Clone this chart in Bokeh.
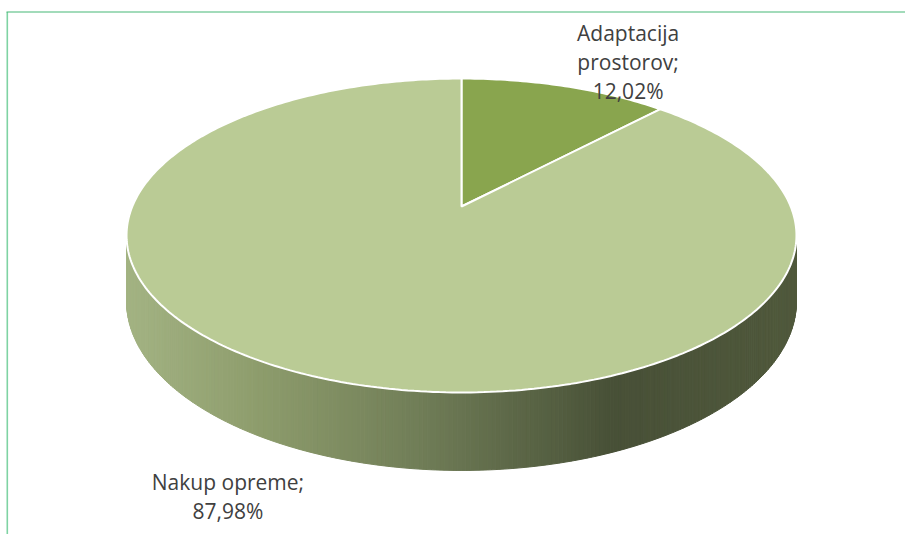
import math
from bokeh.plotting import figure
from bokeh.models import Range1d
from bokeh.core.properties import value
from bokeh.embed import file_html
from bokeh.resources import INLINE

# ---- data ----
categories = ["Adaptacija prostorov", "Nakup opreme"]
label_heads = ["Adaptacija\nprostorov;", "Nakup opreme;"]
shares = [12.02, 87.98]
slice_colors = ["#89A54E", "#BACB95"]

# ---- geometry (pixel space, perspective ellipse) ----
CX, CY = 461.0, 206.0
A, B, K, H = 329.2, 151.6, 0.1847, 63.6


def proj(theta, w=0.0):
    u, v = math.sin(theta), math.cos(theta)
    d = 1 + K * v
    return CX + A * u / d, CY - (B * v - H * w) / d


def hex2rgb(h):
    h = h.lstrip("#")
    return tuple(int(h[i:i + 2], 16) for i in (0, 2, 4))


stops = [(120, "#a4b484"), (260, "#8d9c6c"), (420, "#707d57"),
         (560, "#535d40"), (610, "#485037"), (800, "#50593c")]


def grad(x):
    for (x0, c0), (x1, c1) in zip(stops, stops[1:]):
        if x <= x1 or (x1, c1) == stops[-1]:
            t = min(max((x - x0) / (x1 - x0), 0), 1)
            r0, r1 = hex2rgb(c0), hex2rgb(c1)
            return "#%02x%02x%02x" % tuple(int(round(a + (b - a) * t)) for a, b in zip(r0, r1))


p = figure(width=905, height=534, output_backend="svg", toolbar_location=None,
           x_range=Range1d(0, 905), y_range=Range1d(534, 0),
           min_border=0, outline_line_color=None)
p.axis.visible = False
p.grid.visible = False
p.background_fill_color = "white"

# border lines (chart area frame, only top and left visible)
p.line([6.8, 6.8], [11.5, 534], line_color="#7fd3a3", line_width=1.6)
p.line([6, 905], [11.5, 11.5], line_color="#46b876", line_width=1.2)

# side wall with horizontal gradient
tc = math.acos(-K)
t_right, t_left = tc, 2 * math.pi - tc
N = 260
xs_list, ys_list, cols = [], [], []
for i in range(N):
    t0 = t_right + (t_left - t_right) * i / N
    t1 = t_right + (t_left - t_right) * (i + 1) / N
    pts = [proj(t0, 0), proj(t1, 0), proj(t1, 1), proj(t0, 1)]
    xs_list.append([q[0] for q in pts])
    ys_list.append([q[1] for q in pts])
    cols.append(grad(sum(q[0] for q in pts) / 4))
p.patches(xs_list, ys_list, fill_color=cols, line_color=cols, line_width=1)

# top face slices
total = sum(shares)
start = 0.0
mids = []
for share, col in zip(shares, slice_colors):
    ang = 2 * math.pi * share / total
    n = max(int(ang / (2 * math.pi) * 400), 8)
    ts = [start + ang * j / n for j in range(n + 1)]
    xs = [CX] + [proj(t)[0] for t in ts]
    ys = [CY] + [proj(t)[1] for t in ts]
    p.patch(xs, ys, fill_color=col, line_color="white", line_width=2)
    mids.append(start + ang / 2)
    start += ang

# data labels
offsets = [(63, -24), (-87, 120)]
for head, share, mid, (dx, dy) in zip(label_heads, shares, mids, offsets):
    ex, ey = proj(mid)
    txt = head + "\n" + ("%.2f%%" % share).replace(".", ",")
    p.text(x=[ex + dx], y=[ey + dy], text=[txt], text_font=value("Open Sans"),
           text_font_size="21px", text_color="#404040", text_align="center",
           text_baseline="middle", text_line_height=1.04)

open("out.html", "w").write(file_html(p, INLINE))
